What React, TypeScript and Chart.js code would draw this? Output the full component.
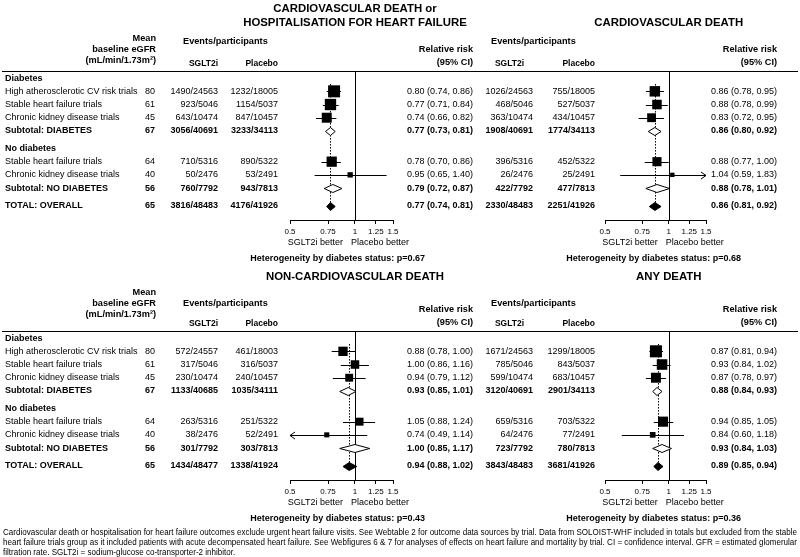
import React, { useEffect, useRef } from "react";
import { Chart, registerables } from "chart.js";

Chart.register(...registerables);

// ---------------- data ----------------
const rowLabels = [
  "Diabetes",
  "High atherosclerotic CV risk trials",
  "Stable heart failure trials",
  "Chronic kidney disease trials",
  "Subtotal: DIABETES",
  "No diabetes",
  "Stable heart failure trials",
  "Chronic kidney disease trials",
  "Subtotal: NO DIABETES",
  "TOTAL: OVERALL",
];
const rowKinds = ["header", "trial", "trial", "trial", "subtotal", "header", "trial", "trial", "subtotal", "total"];
const rowPositions = [0, 1, 2, 3, 4, 5.33, 6.33, 7.33, 8.33, 9.68];
const meanEgfr = ["", "80", "61", "45", "67", "", "64", "40", "56", "65"];
const xTicks = [0.5, 0.75, 1, 1.25, 1.5];

const cvHhfTitle = ["CARDIOVASCULAR DEATH or", "HOSPITALISATION FOR HEART FAILURE"];
const cvHhfSglt2i = ["", "1490/24563", "923/5046", "643/10474", "3056/40691", "", "710/5316", "50/2476", "760/7792", "3816/48483"];
const cvHhfPlacebo = ["", "1232/18005", "1154/5037", "847/10457", "3233/34113", "", "890/5322", "53/2491", "943/7813", "4176/41926"];
const cvHhfRR = [null, 0.80, 0.77, 0.74, 0.77, null, 0.78, 0.95, 0.79, 0.77];
const cvHhfLo = [null, 0.74, 0.71, 0.66, 0.73, null, 0.70, 0.65, 0.72, 0.74];
const cvHhfHi = [null, 0.86, 0.84, 0.82, 0.81, null, 0.86, 1.40, 0.87, 0.81];
const cvHhfHet = "0.67";

const cvdTitle = ["CARDIOVASCULAR DEATH"];
const cvdSglt2i = ["", "1026/24563", "468/5046", "363/10474", "1908/40691", "", "396/5316", "26/2476", "422/7792", "2330/48483"];
const cvdPlacebo = ["", "755/18005", "527/5037", "434/10457", "1774/34113", "", "452/5322", "25/2491", "477/7813", "2251/41926"];
const cvdRR = [null, 0.86, 0.88, 0.83, 0.86, null, 0.88, 1.04, 0.88, 0.86];
const cvdLo = [null, 0.78, 0.78, 0.72, 0.80, null, 0.77, 0.59, 0.78, 0.81];
const cvdHi = [null, 0.95, 0.99, 0.95, 0.92, null, 1.00, 1.83, 1.01, 0.92];
const cvdHet = "0.68";

const ncvdTitle = ["NON-CARDIOVASCULAR DEATH"];
const ncvdSglt2i = ["", "572/24557", "317/5046", "230/10474", "1133/40685", "", "263/5316", "38/2476", "301/7792", "1434/48477"];
const ncvdPlacebo = ["", "461/18003", "316/5037", "240/10457", "1035/34111", "", "251/5322", "52/2491", "303/7813", "1338/41924"];
const ncvdRR = [null, 0.88, 1.00, 0.94, 0.93, null, 1.05, 0.74, 1.00, 0.94];
const ncvdLo = [null, 0.78, 0.86, 0.79, 0.85, null, 0.88, 0.49, 0.85, 0.88];
const ncvdHi = [null, 1.00, 1.16, 1.12, 1.01, null, 1.24, 1.14, 1.17, 1.02];
const ncvdHet = "0.43";

const anyTitle = ["ANY DEATH"];
const anySglt2i = ["", "1671/24563", "785/5046", "599/10474", "3120/40691", "", "659/5316", "64/2476", "723/7792", "3843/48483"];
const anyPlacebo = ["", "1299/18005", "843/5037", "683/10457", "2901/34113", "", "703/5322", "77/2491", "780/7813", "3681/41926"];
const anyRR = [null, 0.87, 0.93, 0.87, 0.88, null, 0.94, 0.84, 0.93, 0.89];
const anyLo = [null, 0.81, 0.84, 0.78, 0.84, null, 0.85, 0.60, 0.84, 0.85];
const anyHi = [null, 0.94, 1.02, 0.97, 0.93, null, 1.05, 1.18, 1.03, 0.94];
const anyHet = "0.36";

const footnoteLines = [
  "Cardiovascular death or hospitalisation for heart failure outcomes exclude urgent heart failure visits. See Webtable 2 for outcome data sources by trial. Data from SOLOIST-WHF included in totals but excluded from the stable",
  "heart failure trials group as it included patients with acute decompensated heart failure. See Webfigures 6 & 7 for analyses of effects on heart failure and mortality by trial. CI = confidence interval. GFR = estimated glomerular",
  "filtration rate. SGLT2i = sodium-glucose co-transporter-2 inhibitor.",
];

// ---------------- layout / style ----------------
const FONT = '"Liberation Sans", Arial, Helvetica, sans-serif';
const NARROW = '"Liberation Sans Narrow", "Liberation Sans", Arial, sans-serif';

type Layout = {
  plotL: number; plotR: number; rowLabels: boolean; egfrR: number; evLeft: number;
  sgltR: number; sgltLabelR: number; placR: number; placLabelR: number; rrR: number;
  hetR: number; ruleFrom: number; ruleTo: number; betterL: number; betterR: number;
};
const LEFT: Layout = {
  plotL: 290, plotR: 393, rowLabels: true, egfrR: 155, evLeft: 183, sgltR: 218, sgltLabelR: 218,
  placR: 278, placLabelR: 278, rrR: 473, hetR: 425, ruleFrom: 2, ruleTo: 480, betterL: 12, betterR: 4,
};
const RIGHT: Layout = {
  plotL: 605, plotR: 706, rowLabels: false, egfrR: 0, evLeft: 491, sgltR: 533, sgltLabelR: 524,
  placR: 595, placLabelR: 595, rrR: 777, hetR: 741, ruleFrom: 480, ruleTo: 798, betterL: 11, betterR: 3,
};

// header text offsets above the header rule (top half / bottom half)
type HeaderOffsets = { title1: number; title2: number; mean: number; base: number; unit: number; events: number; arms: number; rr: number; ci: number };
const TOP_HEAD: HeaderOffsets = { title1: 62, title2: 48, mean: 33, base: 21.5, unit: 10.5, events: 29.5, arms: 7, rr: 21.5, ci: 8.5 };
const BOTTOM_HEAD: HeaderOffsets = { title1: 68, title2: 54, mean: 39, base: 27.5, unit: 16.5, events: 28, arms: 7, rr: 21.5, ci: 8.5 };

type Panel = {
  key: string; title: string[]; sglt: string[]; plac: string[];
  rr: (number | null)[]; lo: (number | null)[]; hi: (number | null)[]; het: string;
};

const PANELS: Panel[] = [
  { key: "cvhhf", title: cvHhfTitle, sglt: cvHhfSglt2i, plac: cvHhfPlacebo, rr: cvHhfRR, lo: cvHhfLo, hi: cvHhfHi, het: cvHhfHet },
  { key: "cvd", title: cvdTitle, sglt: cvdSglt2i, plac: cvdPlacebo, rr: cvdRR, lo: cvdLo, hi: cvdHi, het: cvdHet },
  { key: "ncvd", title: ncvdTitle, sglt: ncvdSglt2i, plac: ncvdPlacebo, rr: ncvdRR, lo: ncvdLo, hi: ncvdHi, het: ncvdHet },
  { key: "any", title: anyTitle, sglt: anySglt2i, plac: anyPlacebo, rr: anyRR, lo: anyLo, hi: anyHi, het: anyHet },
];

const AREA_TOP = 71;
const AREA_BOTTOM = 220;
const XAXIS_H = 20;
const Y_MIN = -0.54;
const Y_MAX = 10.75;

function txt(ctx: CanvasRenderingContext2D, s: string, x: number, y: number, align: CanvasTextAlign, bold: boolean, size: number) {
  ctx.font = `${bold ? "bold " : ""}${size}px ${FONT}`;
  ctx.textAlign = align;
  ctx.textBaseline = "middle";
  ctx.fillStyle = "#000";
  ctx.fillText(s, x, y);
}

function seg(ctx: CanvasRenderingContext2D, x1: number, y1: number, x2: number, y2: number) {
  ctx.beginPath();
  ctx.moveTo(x1, y1);
  ctx.lineTo(x2, y2);
  ctx.stroke();
}

function fmt(v: number) {
  return v.toFixed(2);
}

function makePlugin(p: Panel, L: Layout, H: HeaderOffsets, footnote: boolean) {
  return {
    id: "forest_" + p.key,
    beforeDatasetsDraw(chart: any) {
      const { ctx, chartArea: a, scales } = chart;
      const x = scales.x, y = scales.y;
      ctx.save();
      ctx.strokeStyle = "#000";
      ctx.lineWidth = 1;
      // header rule
      seg(ctx, L.ruleFrom, a.top + 0.5, L.ruleTo, a.top + 0.5);
      // line of no effect
      const x1 = Math.round(x.getPixelForValue(1)) + 0.5;
      seg(ctx, x1, a.top, x1, a.bottom);
      // dotted line at overall estimate
      const tIdx = rowKinds.indexOf("total");
      const xt = Math.round(x.getPixelForValue(p.rr[tIdx] as number)) + 0.5;
      ctx.setLineDash([1.5, 1.5]);
      seg(ctx, xt, y.getPixelForValue(0.45), xt, y.getPixelForValue(rowPositions[tIdx]));
      ctx.setLineDash([]);
      // confidence intervals of trial groups
      rowKinds.forEach((k, i) => {
        if (k !== "trial") return;
        const lo = p.lo[i] as number, hi = p.hi[i] as number;
        const yy = Math.round(y.getPixelForValue(rowPositions[i])) + 0.5;
        const xl = x.getPixelForValue(Math.max(lo, x.min));
        const xr = x.getPixelForValue(Math.min(hi, x.max));
        seg(ctx, xl, yy, xr, yy);
        if (lo < x.min) {
          seg(ctx, xl, yy, xl + 5, yy - 3.5);
          seg(ctx, xl, yy, xl + 5, yy + 3.5);
        }
        if (hi > x.max) {
          seg(ctx, xr, yy, xr - 5, yy - 3.5);
          seg(ctx, xr, yy, xr - 5, yy + 3.5);
        }
      });
      ctx.restore();
    },
    afterDatasetsDraw(chart: any) {
      const { ctx, scales } = chart;
      const x = scales.x, y = scales.y;
      ctx.save();
      ctx.strokeStyle = "#000";
      ctx.lineWidth = 1;
      rowKinds.forEach((k, i) => {
        if (k !== "subtotal" && k !== "total") return;
        const yy = Math.round(y.getPixelForValue(rowPositions[i])) + 0.5;
        const xl = x.getPixelForValue(p.lo[i]);
        const xc = x.getPixelForValue(p.rr[i]);
        const xr = x.getPixelForValue(p.hi[i]);
        const h = 4;
        ctx.beginPath();
        ctx.moveTo(xl, yy);
        ctx.lineTo(xc, yy - h);
        ctx.lineTo(xr, yy);
        ctx.lineTo(xc, yy + h);
        ctx.closePath();
        ctx.fillStyle = k === "total" ? "#000" : "#fff";
        ctx.fill();
        ctx.stroke();
      });
      ctx.restore();
    },
    afterDraw(chart: any) {
      const { ctx, chartArea: a, scales } = chart;
      const x = scales.x, y = scales.y;
      ctx.save();
      const top = a.top;
      // titles
      const cx = x.getPixelForValue(1);
      if (p.title.length === 2) {
        txt(ctx, p.title[0], cx, top - H.title1, "center", true, 11.4);
        txt(ctx, p.title[1], cx, top - H.title2, "center", true, 11.4);
      } else {
        txt(ctx, p.title[0], cx, top - H.title2, "center", true, 11.4);
      }
      // column headers
      if (L.rowLabels) {
        txt(ctx, "Mean", L.egfrR + 1, top - H.mean, "right", true, 9.2);
        txt(ctx, "baseline eGFR", L.egfrR + 1, top - H.base, "right", true, 9.2);
        txt(ctx, "(mL/min/1.73m\u00B2)", L.egfrR + 1, top - H.unit, "right", true, 9.2);
      }
      txt(ctx, "Events/participants", L.evLeft, top - H.events, "left", true, 9.2);
      txt(ctx, "SGLT2i", L.sgltLabelR, top - H.arms, "right", true, 8.5);
      txt(ctx, "Placebo", L.placLabelR, top - H.arms, "right", true, 8.5);
      txt(ctx, "Relative risk", L.rrR, top - H.rr, "right", true, 9.2);
      txt(ctx, "(95% CI)", L.rrR, top - H.ci, "right", true, 9.2);
      // rows
      rowKinds.forEach((k, i) => {
        const yy = y.getPixelForValue(rowPositions[i]);
        const bold = k !== "trial";
        if (L.rowLabels) {
          txt(ctx, rowLabels[i], 5, yy, "left", bold, 9);
          if (meanEgfr[i]) txt(ctx, meanEgfr[i], L.egfrR, yy, "right", bold, 9);
        }
        if (k === "header") return;
        txt(ctx, p.sglt[i], L.sgltR, yy, "right", bold, 9);
        txt(ctx, p.plac[i], L.placR, yy, "right", bold, 9);
        const rr = p.rr[i] as number, lo = p.lo[i] as number, hi = p.hi[i] as number;
        txt(ctx, `${fmt(rr)} (${fmt(lo)}, ${fmt(hi)})`, L.rrR, yy, "right", bold, 9);
      });
      // below axis
      txt(ctx, "SGLT2i better", cx - L.betterL, a.bottom + 23, "right", false, 9);
      txt(ctx, "Placebo better", cx - L.betterR, a.bottom + 23, "left", false, 9);
      txt(ctx, `Heterogeneity by diabetes status: p=${p.het}`, L.hetR, a.bottom + 39, "right", true, 9);
      // footnote
      if (footnote) {
        ctx.font = `8.8px ${NARROW}`;
        ctx.textAlign = "left";
        ctx.textBaseline = "middle";
        ctx.fillStyle = "#000";
        const target = 794;
        const s = target / ctx.measureText(footnoteLines[0]).width;
        footnoteLines.forEach((line, li) => {
          const yy = a.bottom + 53 + li * 9.6;
          ctx.save();
          ctx.translate(3, yy);
          ctx.scale(s, 1);
          if (li < footnoteLines.length - 1) {
            const words = line.split(" ");
            const ww = words.map((w) => ctx.measureText(w).width);
            const sum = ww.reduce((acc, v) => acc + v, 0);
            const gap = (target / s - sum) / (words.length - 1);
            let px = 0;
            words.forEach((w, wi) => {
              ctx.fillText(w, px, 0);
              px += ww[wi] + gap;
            });
          } else {
            ctx.fillText(line, 0, 0);
          }
          ctx.restore();
        });
      }
      ctx.restore();
    },
  };
}

function ForestPanel({ panel, layout, head, top, height, footnote }: { panel: Panel; layout: Layout; head: HeaderOffsets; top: number; height: number; footnote: boolean }) {
  const ref = useRef<HTMLCanvasElement>(null);
  useEffect(() => {
    const canvas = ref.current;
    if (!canvas) return;
    const points: { x: number; y: number }[] = [];
    const radii: number[] = [];
    rowKinds.forEach((k, i) => {
      if (k !== "trial") return;
      const rr = panel.rr[i] as number, lo = panel.lo[i] as number, hi = panel.hi[i] as number;
      points.push({ x: rr, y: rowPositions[i] });
      const side = Math.max(4, Math.min(13, 4.65 / Math.sqrt(Math.log(hi / lo))));
      radii.push(side / Math.SQRT2);
    });
    const chart = new Chart(canvas, {
      type: "scatter",
      data: {
        datasets: [
          {
            data: points,
            pointStyle: "rect",
            pointRadius: radii,
            pointHoverRadius: radii,
            backgroundColor: "#000",
            borderColor: "#000",
            borderWidth: 0,
          },
        ],
      },
      options: {
        animation: false,
        responsive: false,
        devicePixelRatio: 1,
        events: [],
        layout: {
          padding: {
            left: layout.plotL,
            right: 800 - layout.plotR,
            top: AREA_TOP,
            bottom: height - AREA_BOTTOM - XAXIS_H,
          },
        },
        plugins: { legend: { display: false }, tooltip: { enabled: false }, title: { display: false } },
        scales: {
          x: {
            type: "logarithmic",
            min: 0.5,
            max: 1.5,
            position: "bottom",
            afterBuildTicks: (s: any) => {
              s.ticks = xTicks.map((v) => ({ value: v }));
            },
            afterFit: (s: any) => {
              s.height = XAXIS_H;
            },
            ticks: {
              callback: (v: any) => String(v),
              autoSkip: false,
              maxRotation: 0,
              minRotation: 0,
              padding: 2.5,
              color: "#000",
              font: { family: FONT, size: 8 },
            },
            grid: { drawOnChartArea: false, drawTicks: true, tickLength: 4, color: "#000", tickColor: "#000" },
            border: { display: true, color: "#000", width: 1 },
          },
          y: { type: "linear", reverse: true, min: Y_MIN, max: Y_MAX, display: false },
        },
      } as any,
      plugins: [makePlugin(panel, layout, head, footnote) as any],
    });
    return () => chart.destroy();
  }, [panel, layout, head, height, footnote]);
  return (
    <canvas
      ref={ref}
      width={800}
      height={height}
      style={{ position: "absolute", left: 0, top, width: 800, height }}
    />
  );
}

export default function App() {
  useEffect(() => {
    document.body.style.margin = "0";
  }, []);
  return (
    <div style={{ position: "fixed", left: 0, top: 0, width: 800, height: 557, background: "#fff", overflow: "hidden" }}>
      <ForestPanel panel={PANELS[0]} layout={LEFT} head={TOP_HEAD} top={0} height={290} footnote={false} />
      <ForestPanel panel={PANELS[1]} layout={RIGHT} head={TOP_HEAD} top={0} height={290} footnote={false} />
      <ForestPanel panel={PANELS[2]} layout={LEFT} head={BOTTOM_HEAD} top={260} height={297} footnote={true} />
      <ForestPanel panel={PANELS[3]} layout={RIGHT} head={BOTTOM_HEAD} top={260} height={297} footnote={false} />
    </div>
  );
}
